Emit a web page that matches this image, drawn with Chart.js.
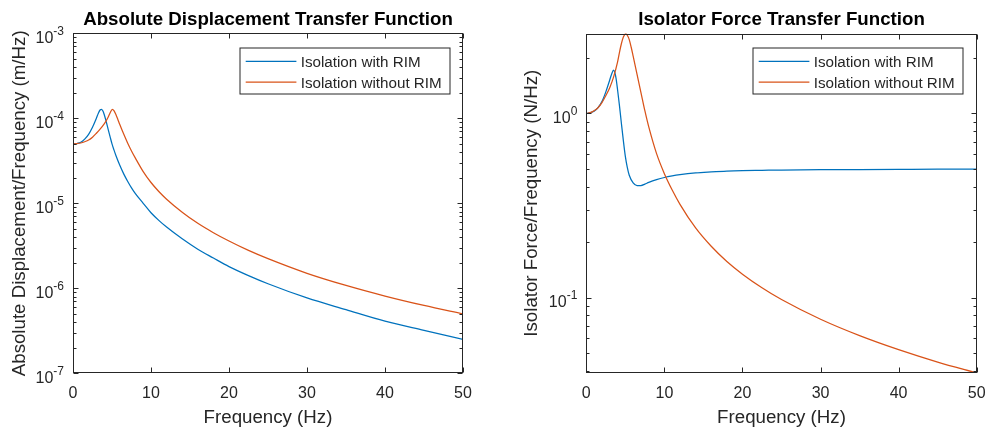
<!DOCTYPE html>
<html>
<head>
<meta charset="utf-8">
<title>Transfer functions</title>
<script src="https://cdn.jsdelivr.net/npm/chart.js@4.4.1/dist/chart.umd.min.js"></script>
<style>
  body { margin: 0; background: #fff; }
  .panel { position: absolute; top: 0; width: 495px; height: 432px; }
</style>
</head>
<body>
<div class="panel" style="left:0"><canvas id="dispChart" width="495" height="432"></canvas></div>
<div class="panel" style="left:495px"><canvas id="forceChart" width="495" height="432"></canvas></div>
<script>
// frequency samples (Hz) for each configuration
const freqWithRim = [0, 0.5, 1, 1.5, 2, 2.5, 3, 3.25, 3.5, 3.65, 3.8, 4, 4.25, 4.5, 4.75, 5, 5.25, 5.5, 6, 6.5, 7, 7.5, 8, 9, 10, 11, 12, 14, 16, 18, 20, 22.5, 25, 30, 35, 40, 45, 50];
const freqWithoutRim = [0, 0.5, 1, 1.5, 2, 2.5, 3, 3.5, 4, 4.25, 4.5, 4.75, 5.05, 5.25, 5.5, 5.75, 6, 6.5, 7, 7.5, 8, 9, 10, 11, 12, 14, 16, 18, 20, 22.5, 25, 30, 35, 40, 45, 50];

// absolute displacement / frequency (m/Hz)
const dispWithRim = [5.0e-5, 5.05e-5, 5.22e-5, 5.69e-5, 6.48e-5, 7.85e-5, 1.0e-4, 1.15e-4, 1.26e-4, 1.276e-4, 1.233e-4, 1.11e-4, 9.2e-5, 7.45e-5, 6.1e-5, 5.0e-5, 4.25e-5, 3.65e-5, 2.8e-5, 2.22e-5, 1.82e-5, 1.52e-5, 1.3e-5, 1.0e-5, 7.75e-6, 6.3e-6, 5.25e-6, 3.82e-6, 2.88e-6, 2.27e-6, 1.8e-6, 1.41e-6, 1.13e-6, 7.7e-7, 5.6e-7, 4.1e-7, 3.2e-7, 2.51e-7];
const dispWithoutRim = [5.0e-5, 5.03e-5, 5.12e-5, 5.3e-5, 5.55e-5, 6.0e-5, 6.67e-5, 7.5e-5, 8.6e-5, 9.33e-5, 1.028e-4, 1.156e-4, 1.276e-4, 1.23e-4, 1.109e-4, 9.7e-5, 8.45e-5, 6.52e-5, 5.13e-5, 4.13e-5, 3.4e-5, 2.36e-5, 1.757e-5, 1.378e-5, 1.118e-5, 7.85e-6, 5.81e-6, 4.51e-6, 3.6e-6, 2.79e-6, 2.23e-6, 1.5e-6, 1.08e-6, 8.1e-7, 6.28e-7, 5.0e-7];

// isolator force / frequency (N/Hz)
const forceWithRim = [1.0, 1.01, 1.03, 1.075, 1.16, 1.31, 1.52, 1.64, 1.72, 1.67, 1.56, 1.35, 1.10, 0.88, 0.71, 0.585, 0.51, 0.462, 0.42, 0.406, 0.406, 0.413, 0.422, 0.437, 0.449, 0.458, 0.465, 0.475, 0.481, 0.486, 0.489, 0.491, 0.493, 0.495, 0.496, 0.497, 0.498, 0.498];
const forceWithoutRim = [1.0, 1.01, 1.035, 1.075, 1.145, 1.25, 1.38, 1.58, 1.90, 2.15, 2.40, 2.60, 2.72, 2.66, 2.52, 2.29, 2.05, 1.63, 1.30, 1.035, 0.845, 0.605, 0.471, 0.384, 0.321, 0.239, 0.19, 0.157, 0.134, 0.113, 0.0975, 0.0762, 0.0621, 0.0521, 0.0446, 0.0389];

const freqTicks = [0, 10, 20, 30, 40, 50];
const seriesNames = ['Isolation with RIM', 'Isolation without RIM'];
const seriesColors = ['#0072BD', '#D95319'];

const ink = '#262626';
const family = '"Liberation Sans", Arial, Helvetica, sans-serif';
const tickFont = '16px ' + family;
const supFont = '12px ' + family;
const labelFont = '18.7px ' + family;
const titleFont = 'bold 18.7px ' + family;
const legendFont = '15.2px ' + family;

function toPoints(xs, ys) {
  return xs.map((x, i) => ({ x: x, y: ys[i] }));
}

// box, inward ticks, tick labels, titles and legend
const matlabAxes = {
  id: 'matlabAxes',
  afterDraw(chart, args, opts) {
    const ctx = chart.ctx;
    const a = chart.chartArea;
    const xs = chart.scales.x;
    const ys = chart.scales.y;
    const L = Math.round(a.left) + 0.5;
    const R = Math.round(a.right) - 0.5;
    const T = Math.round(a.top) + 0.5;
    const B = Math.round(a.bottom) - 0.5;

    ctx.save();
    ctx.strokeStyle = ink;
    ctx.fillStyle = ink;
    ctx.lineWidth = 1;

    ctx.beginPath();
    freqTicks.forEach(v => {
      const px = Math.round(xs.getPixelForValue(v)) + 0.5;
      ctx.moveTo(px, B); ctx.lineTo(px, B - 5);
      ctx.moveTo(px, T); ctx.lineTo(px, T + 5);
    });
    const decades = [];
    const lo = Math.floor(Math.log10(ys.min));
    const hi = Math.ceil(Math.log10(ys.max));
    for (let d = lo; d <= hi; d++) {
      for (let m = 1; m <= 9; m++) {
        const v = m * Math.pow(10, d);
        if (v < ys.min * 0.9999 || v > ys.max * 1.0001) continue;
        const py = Math.round(ys.getPixelForValue(v)) + 0.5;
        const len = m === 1 ? 5 : 3;
        ctx.moveTo(L, py); ctx.lineTo(L + len, py);
        ctx.moveTo(R, py); ctx.lineTo(R - len, py);
        if (m === 1) decades.push([d, ys.getPixelForValue(v)]);
      }
    }
    ctx.stroke();
    ctx.strokeRect(L, T, R - L, B - T);

    // x tick labels
    ctx.font = tickFont;
    ctx.textAlign = 'center';
    ctx.textBaseline = 'alphabetic';
    freqTicks.forEach(v => {
      ctx.fillText(String(v), xs.getPixelForValue(v), a.bottom + 25);
    });

    // y tick labels as 10 with a raised exponent
    ctx.textAlign = 'left';
    decades.forEach(([d, py]) => {
      const exp = String(d);
      ctx.font = tickFont;
      const wb = ctx.measureText('10').width;
      ctx.font = supFont;
      const we = ctx.measureText(exp).width;
      const x0 = a.left - 9 - wb - we;
      ctx.font = tickFont;
      ctx.fillText('10', x0, py + 9.5);
      ctx.font = supFont;
      ctx.fillText(exp, x0 + wb, py + 1.8);
    });

    // axis labels
    const cx = (a.left + a.right) / 2;
    const cy = (a.top + a.bottom) / 2;
    ctx.font = labelFont;
    ctx.textAlign = 'center';
    ctx.fillText(opts.xLabel, cx, a.bottom + 49.5);
    ctx.save();
    ctx.translate(opts.yLabelX, cy);
    ctx.rotate(-Math.PI / 2);
    ctx.fillText(opts.yLabel, 0, 0);
    ctx.restore();

    // title
    ctx.fillStyle = '#000';
    ctx.font = titleFont;
    ctx.fillText(opts.title, cx, 25);

    // legend in the upper right corner
    const bw = 210, bh = 46;
    const bx = Math.round(a.right - 13.3 - bw);
    const by = Math.round(a.top + 14.4);
    ctx.fillStyle = '#fff';
    ctx.fillRect(bx, by, bw, bh);
    ctx.strokeStyle = ink;
    ctx.lineWidth = 1;
    ctx.strokeRect(bx, by, bw, bh);
    ctx.font = legendFont;
    ctx.textAlign = 'left';
    chart.data.datasets.forEach((ds, i) => {
      const ly = by + 13.3 + i * 20.7;
      ctx.strokeStyle = ds.borderColor;
      ctx.lineWidth = 1.25;
      ctx.beginPath();
      ctx.moveTo(bx + 5.7, ly);
      ctx.lineTo(bx + 56.4, ly);
      ctx.stroke();
      ctx.fillStyle = ink;
      ctx.fillText(ds.label, bx + 60.7, ly + 5.6);
    });
    ctx.restore();
  }
};

function buildChart(canvasId, cfg) {
  return new Chart(document.getElementById(canvasId), {
    type: 'line',
    data: {
      datasets: [
        { label: seriesNames[0], data: toPoints(cfg.xs[0], cfg.ys[0]), borderColor: seriesColors[0], order: 1 },
        { label: seriesNames[1], data: toPoints(cfg.xs[1], cfg.ys[1]), borderColor: seriesColors[1], order: 0 }
      ]
    },
    options: {
      responsive: false,
      animation: false,
      devicePixelRatio: 1,
      layout: { padding: { top: cfg.top, right: cfg.right, left: 0, bottom: 0 } },
      elements: {
        point: { radius: 0 },
        line: { borderWidth: 1.25, cubicInterpolationMode: 'monotone', fill: false }
      },
      plugins: {
        legend: { display: false },
        tooltip: { enabled: false },
        matlabAxes: { title: cfg.title, xLabel: 'Frequency (Hz)', yLabel: cfg.yLabel, yLabelX: cfg.yLabelX }
      },
      scales: {
        x: {
          type: 'linear', min: 0, max: 50,
          ticks: { display: false }, grid: { display: false }, border: { display: false },
          afterFit: s => { s.height = cfg.bottom; }
        },
        y: {
          type: 'logarithmic', min: cfg.yMin, max: cfg.yMax,
          ticks: { display: false }, grid: { display: false }, border: { display: false },
          afterFit: s => { s.width = cfg.left; }
        }
      }
    },
    plugins: [matlabAxes]
  });
}

buildChart('dispChart', {
  xs: [freqWithRim, freqWithoutRim],
  ys: [dispWithRim, dispWithoutRim],
  yMin: 1e-7, yMax: 1e-3,
  left: 73, right: 32, top: 33.3, bottom: 58.7,
  title: 'Absolute Displacement Transfer Function',
  yLabel: 'Absolute Displacement/Frequency (m/Hz)',
  yLabelX: 25
});

buildChart('forceChart', {
  xs: [freqWithRim, freqWithoutRim],
  ys: [forceWithRim, forceWithoutRim],
  yMin: 0.0389, yMax: 2.72,
  left: 91.3, right: 13.3, top: 33.5, bottom: 59,
  title: 'Isolator Force Transfer Function',
  yLabel: 'Isolator Force/Frequency (N/Hz)',
  yLabelX: 41.7
});
</script>
</body>
</html>
